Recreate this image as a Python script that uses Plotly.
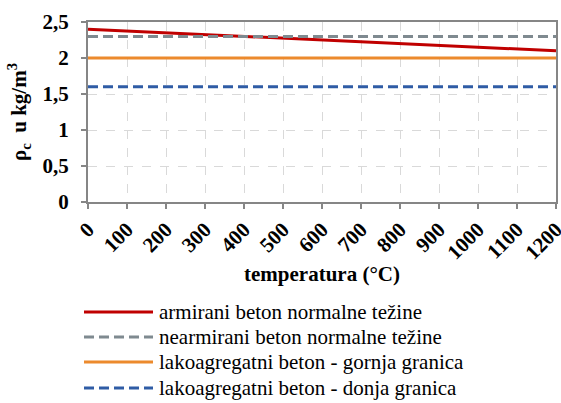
import plotly.graph_objects as go

# Density of concrete vs. temperature
temperature = [0, 1200]
armirani = [2.4, 2.1]
nearmirani = [2.3, 2.3]
gornja = [2.0, 2.0]
donja = [1.6, 1.6]

series_names = [
    "armirani beton normalne težine",
    "nearmirani beton normalne težine",
    "lakoagregatni beton - gornja granica",
    "lakoagregatni beton - donja granica",
]
series_values = [armirani, nearmirani, gornja, donja]
colors = ["#c00000", "#7f8a90", "#ec8a2d", "#2f5ca5"]
dashes = ["solid", "10px,5px", "solid", "10px,5px"]

y_ticks = [0, 0.5, 1, 1.5, 2, 2.5]
y_tick_text = ["0", "0,5", "1", "1,5", "2", "2,5"]
x_ticks = list(range(0, 1300, 100))

fig = go.Figure()
for name, vals, col, dsh in zip(series_names, series_values, colors, dashes):
    fig.add_trace(go.Scatter(
        x=temperature, y=vals, mode="lines", name=name,
        line=dict(color=col, width=3, dash=dsh), showlegend=False,
    ))

serif = "Liberation Serif"
legend_font = "Times New Roman"
fsize = 21
axis_common = dict(
    showline=True, linecolor="#868686", linewidth=2, mirror=True,
    ticks="outside", ticklen=5, tickcolor="#868686", tickwidth=2,
    showgrid=True, gridcolor="#d9d9d9", gridwidth=1, griddash="dash",
    zeroline=False, automargin=False,
    tickfont=dict(family=serif, size=fsize, color="black"),
)

fig.update_xaxes(
    range=[0, 1200], tickvals=x_ticks, ticktext=["<b>%d</b>" % v for v in x_ticks],
    tickangle=-45, ticklabeloverflow="allow",
    title=dict(text="<b>temperatura (°C)</b>", font=dict(family=serif, size=fsize, color="black"), standoff=3),
    **axis_common,
)
fig.update_yaxes(
    range=[0, 2.5], tickvals=y_ticks, ticktext=["<b>%s</b>" % t for t in y_tick_text],
    ticklabelstandoff=8,
    title=dict(text="<b>ρ<sub>c</sub>  u kg/m<sup>3</sup></b>", font=dict(family=serif, size=fsize, color="black"), standoff=10),
    **axis_common,
)

# Legend drawn below the chart (paper coordinates computed from pixel rows)
plot_left, plot_w = 88, 468
plot_bottom_px, plot_h = 202, 180
legend_y = [312, 337, 362, 388]
for name, col, dsh, ly in zip(series_names, colors, dashes, legend_y):
    yp = (plot_bottom_px - ly) / plot_h
    fig.add_shape(type="line", xref="paper", yref="paper",
                  x0=(84 - plot_left) / plot_w, x1=(153 - plot_left) / plot_w,
                  y0=yp, y1=yp,
                  line=dict(color=col, width=3, dash=dsh))
    fig.add_annotation(xref="paper", yref="paper",
                       x=(157 - plot_left) / plot_w, y=yp,
                       text="<span style='font-family:%s;font-size:%dpx'>%s</span>" % (legend_font, fsize, name),
                       showarrow=False, xanchor="left", yanchor="middle",
                       font=dict(family=legend_font, size=fsize, color="black"))

fig.update_layout(
    width=561, height=403,
    margin=dict(l=88, r=5, t=22, b=201),
    paper_bgcolor="white", plot_bgcolor="white",
    font=dict(family=serif, color="black"),
    showlegend=False,
)

fig.write_html("out.html")
